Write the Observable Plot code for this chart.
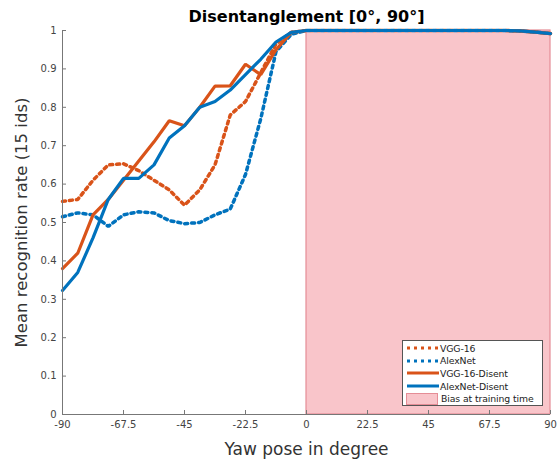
<!DOCTYPE html>
<html>
<head>
<meta charset="utf-8">
<script src="https://cdn.jsdelivr.net/npm/d3@7"></script>
<script src="https://cdn.jsdelivr.net/npm/@observablehq/plot@0.6"></script>
<style>
  body { margin: 0; background: #fff; font-family: "DejaVu Sans", sans-serif; }
  #wrap { position: relative; width: 557px; height: 459px; }
  #legend { position: absolute; left: 402px; top: 340px; width: 141px; height: 66px;
    border: 1px solid #555; background: #fff; font-size: 9.3px; color: #222; box-sizing: border-box; padding: 1px 0 0 2px; letter-spacing: -0.1px; }
  #legend .row { display: flex; align-items: center; height: 12.6px; white-space: nowrap; }
  #legend svg { margin-right: 1px; flex: none; }
</style>
</head>
<body>
<div id="wrap"><div id="chart"></div><div id="legend"></div></div>
<script>
const angles = [-90, -84.375, -78.75, -73.125, -67.5, -61.875, -56.25, -50.625, -45, -39.375, -33.75, -28.125, -22.5, -16.875, -11.25, -5.625, 0, 5.625, 11.25, 16.875, 22.5, 28.125, 33.75, 39.375, 45, 50.625, 56.25, 61.875, 67.5, 73.125, 78.75, 84.375, 90];
const right = [1, 1, 1, 1, 1, 1, 1, 1, 1, 1, 1, 1, 1, 1, 0.999, 0.996, 0.992];
const vgg16 = [0.555, 0.56, 0.61, 0.65, 0.653, 0.635, 0.61, 0.585, 0.545, 0.585, 0.65, 0.78, 0.815, 0.89, 0.965, 0.995, ...right];
const alexnet = [0.515, 0.525, 0.52, 0.49, 0.52, 0.528, 0.525, 0.505, 0.497, 0.50, 0.52, 0.535, 0.625, 0.77, 0.945, 0.99, ...right];
const vgg16Disent = [0.38, 0.42, 0.52, 0.56, 0.61, 0.66, 0.71, 0.765, 0.752, 0.80, 0.855, 0.856, 0.912, 0.885, 0.95, 0.995, ...right];
const alexnetDisent = [0.323, 0.37, 0.46, 0.56, 0.615, 0.615, 0.65, 0.72, 0.752, 0.80, 0.815, 0.845, 0.885, 0.925, 0.97, 0.995, ...right];
const xTicks = [-90, -67.5, -45, -22.5, 0, 22.5, 45, 67.5, 90];
const yTicks = [0, 0.1, 0.2, 0.3, 0.4, 0.5, 0.6, 0.7, 0.8, 0.9, 1];
const biasRegion = [{x1: 0, x2: 90, y1: 0, y2: 1}];

const orange = "#d95319", blue = "#0072bd";
const series = [
  {name: "VGG-16", values: vgg16, color: orange, dash: "3,4"},
  {name: "AlexNet", values: alexnet, color: blue, dash: "3,4"},
  {name: "VGG-16-Disent", values: vgg16Disent, color: orange, dash: null},
  {name: "AlexNet-Disent", values: alexnetDisent, color: blue, dash: null}
];
const rows = s => angles.map((a, i) => ({x: a, y: s.values[i]}));

const plot = Plot.plot({
  width: 557, height: 459,
  marginLeft: 62, marginRight: 7, marginTop: 30, marginBottom: 45,
  style: {fontFamily: "DejaVu Sans, sans-serif", fontSize: "10px", color: "#444", background: "#fff"},
  x: {domain: [-90, 90]},
  y: {domain: [0, 1]},
  marks: [
    Plot.rect(biasRegion, {x1: "x1", x2: "x2", y1: "y1", y2: "y2", fill: "#f9c5ca", stroke: "#e58d96", strokeWidth: 1.2}),
    ...series.map(s => Plot.line(rows(s), {x: "x", y: "y", stroke: s.color, strokeWidth: s.dash ? 3.5 : 3.2, strokeDasharray: s.dash, strokeLinejoin: "miter"})),
    Plot.axisX({ticks: xTicks, tickSize: 0, tickPadding: 6, tickFormat: d => String(d), label: null, fill: "#444"}),
    Plot.axisX({ticks: xTicks, tickSize: -4, text: null, label: null, stroke: "#777"}),
    Plot.axisY({ticks: yTicks, tickSize: 0, tickPadding: 6, tickFormat: d => String(d), label: null, fill: "#444"}),
    Plot.axisY({ticks: yTicks, tickSize: -4, text: null, label: null, stroke: "#777"}),
    Plot.ruleX([-90], {stroke: "#777"}),
    Plot.ruleY([0], {stroke: "#777"}),
    Plot.text(["Disentanglement [0°, 90°]"], {frameAnchor: "top", dy: -20, fontWeight: "bold", fontSize: 16, fill: "#000"}),
    Plot.text(["Yaw pose in degree"], {frameAnchor: "bottom", dy: 40, fontSize: 17, fill: "#333"}),
    Plot.text(["Mean recognition rate (15 ids)"], {frameAnchor: "left", textAnchor: "middle", dx: -41, rotate: -90, fontSize: 16.5, fill: "#333"})
  ]
});
document.getElementById("chart").appendChild(plot);

const legend = document.getElementById("legend");
for (const s of series) {
  const row = document.createElement("div");
  row.className = "row";
  row.innerHTML = `<svg width="34" height="8"><line x1="2" x2="34" y1="4" y2="4" stroke="${s.color}" stroke-width="3" ${s.dash ? `stroke-dasharray="${s.dash}"` : ""}/></svg><span>${s.name}</span>`;
  legend.appendChild(row);
}
const brow = document.createElement("div");
brow.className = "row";
brow.innerHTML = `<svg width="35" height="12"><rect x="1.5" y="0.5" width="31" height="11" fill="#f9c5ca" stroke="#e58d96"/></svg><span>Bias at training time</span>`;
legend.appendChild(brow);
</script>
</body>
</html>
